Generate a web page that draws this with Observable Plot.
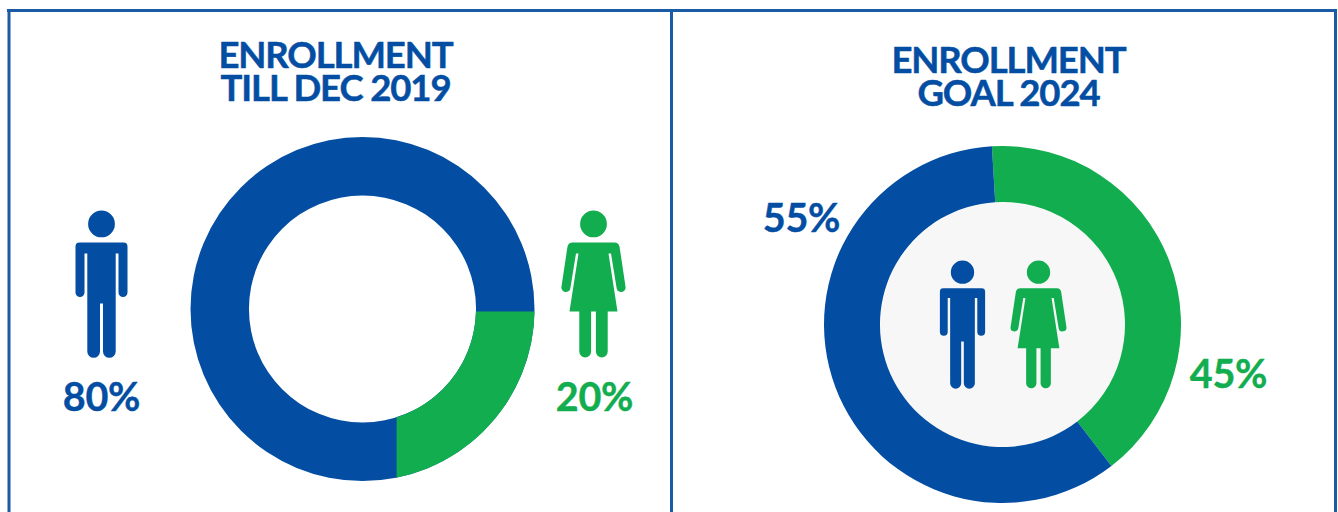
<!DOCTYPE html>
<html>
<head>
<meta charset="utf-8">
<script src="https://cdn.jsdelivr.net/npm/d3@7"></script>
<script src="https://cdn.jsdelivr.net/npm/@observablehq/plot@0.6"></script>
<style>
  html, body { margin: 0; padding: 0; background: #fff; overflow: hidden; }
  svg { display: block; }
  .head-title text { letter-spacing: -1.1px; }
  .pct text { letter-spacing: -0.2px; }
</style>
</head>
<body>
<script>
const BLUE = "#034ea2", GREEN = "#12ad4f", FRAME = "#1b5ba6";

// Values (arc spans as drawn, labels as printed)
const genders = ["Women", "Men"];
const tillDec2019Arc = [21.6, 78.4];
const goal2024Arc = [40.5, 59.5];

const titleLines = ["ENROLLMENT\nTILL DEC 2019", "ENROLLMENT\nGOAL 2024"];
const titleX = [335, 1008];
const titleY = [73.5, 78.5];

const pctLabels = ["80%", "20%", "55%", "45%"];
const pctX = [101, 594, 801, 1228];
const pctY = [398, 398, 219, 375];
const pctFill = [BLUE, GREEN, BLUE, GREEN];

const iconKind = ["man", "woman", "man", "woman"];
const iconX = [101, 593, 962, 1038];
const iconY = [210, 210, 260, 260];
const iconScale = [1, 1, 0.87, 0.87];

const donuts = [
  {values: tillDec2019Arc, cx: 362.5, cy: 309, outer: 172, inner: 113.5, start: 90.8, squareCut: true},
  {values: goal2024Arc, cx: 1002.5, cy: 324.5, outer: 178.5, inner: 122.5, start: -3.4, squareCut: false}
];

// Pictogram glyphs, drawn from the top centre of the figure
function head(c, s) {
  c.moveTo(13.4 * s, 13.4 * s);
  c.arc(0, 13.4 * s, 13.4 * s, 0, 2 * Math.PI);
  c.closePath();
}
const man = {
  draw(c, size) {
    const s = Math.sqrt(size / Math.PI);
    head(c, s);
    const p = (x, y) => [x * s, y * s];
    c.moveTo(...p(-22, 32));
    c.lineTo(...p(22, 32));
    c.quadraticCurveTo(...p(26, 32), ...p(26, 36));
    c.lineTo(...p(26, 82));
    c.arc(21.5 * s, 82 * s, 4.5 * s, 0, Math.PI);
    c.lineTo(...p(17, 43));
    c.lineTo(...p(14.2, 43));
    c.lineTo(...p(14.2, 141));
    c.arc(7.85 * s, 141 * s, 6.35 * s, 0, Math.PI);
    c.lineTo(...p(1.5, 93));
    c.lineTo(...p(-1.5, 93));
    c.lineTo(...p(-1.5, 141));
    c.arc(-7.85 * s, 141 * s, 6.35 * s, 0, Math.PI);
    c.lineTo(...p(-14.2, 43));
    c.lineTo(...p(-17, 43));
    c.lineTo(...p(-17, 82));
    c.arc(-21.5 * s, 82 * s, 4.5 * s, 0, Math.PI);
    c.lineTo(...p(-26, 36));
    c.quadraticCurveTo(...p(-26, 32), ...p(-22, 32));
    c.closePath();
  }
};
const woman = {
  draw(c, size) {
    const s = Math.sqrt(size / Math.PI);
    head(c, s);
    const p = (x, y) => [x * s, y * s];
    c.moveTo(...p(-21, 32));
    c.lineTo(...p(21, 32));
    c.quadraticCurveTo(...p(25, 32), ...p(26, 36));
    c.lineTo(...p(32, 76));
    c.arc(27.6 * s, 77 * s, 4.5 * s, -0.2, Math.PI - 0.2);
    c.lineTo(...p(17.5, 43));
    c.lineTo(...p(15, 43));
    c.lineTo(...p(24, 101));
    c.lineTo(...p(14.2, 101));
    c.lineTo(...p(14.2, 141));
    c.arc(8.3 * s, 141 * s, 5.9 * s, 0, Math.PI);
    c.lineTo(...p(2.4, 101));
    c.lineTo(...p(-2.4, 101));
    c.lineTo(...p(-2.4, 141));
    c.arc(-8.3 * s, 141 * s, 5.9 * s, 0, Math.PI);
    c.lineTo(...p(-14.2, 101));
    c.lineTo(...p(-24, 101));
    c.lineTo(...p(-15, 43));
    c.lineTo(...p(-17.5, 43));
    c.lineTo(...p(-23.2, 78));
    c.arc(-27.6 * s, 77 * s, 4.5 * s, 0.2, Math.PI + 0.2);
    c.lineTo(...p(-26, 36));
    c.quadraticCurveTo(...p(-25, 32), ...p(-21, 32));
    c.closePath();
  }
};

// Donut rings, computed with d3.pie from the value arrays
const color = d3.scaleOrdinal(genders, [GREEN, BLUE]);
function rings(index, scales) {
  const g = d3.create("svg:g");
  donuts.forEach((d, k) => {
    const start = d.start * Math.PI / 180;
    const pie = d3.pie().sort(null).startAngle(start).endAngle(start + 2 * Math.PI);
    const arc = d3.arc().innerRadius(d.inner).outerRadius(d.outer);
    const ring = g.append("g")
      .attr("transform", `translate(${scales.x(d.cx)},${scales.y(d.cy)})`);
    const slices = pie(d.values);
    if (d.squareCut) {
      // The reference cuts this slice along a vertical and a horizontal edge,
      // which run through the points where the slice meets the outer circle.
      const end = slices[0].endAngle;
      const cutX = d.outer * Math.sin(end);
      const cutY = -d.outer * Math.cos(start);
      const id = `square-cut-${k}`;
      ring.append("clipPath").attr("id", id).append("rect")
        .attr("x", cutX).attr("y", cutY)
        .attr("width", d.outer).attr("height", d.outer * 2);
      ring.append("path")
        .attr("fill", color(genders[1]))
        .attr("d", arc({startAngle: 0, endAngle: 2 * Math.PI}));
      ring.append("path")
        .attr("fill", color(genders[0]))
        .attr("clip-path", `url(#${id})`)
        .attr("d", arc({startAngle: start - 0.2, endAngle: Math.PI}));
    } else {
      ring.selectAll("path")
        .data(slices)
        .join("path")
        .attr("fill", (a, i) => color(genders[i]))
        .attr("d", arc);
    }
  });
  return g.node();
}

const idx = d3.range(4);
const chart = Plot.plot({
  width: 1338,
  height: 512,
  margin: 0,
  x: {domain: [0, 1338], range: [0, 1338], axis: null},
  y: {domain: [0, 512], range: [0, 512], axis: null},
  style: {background: "#fff", fontFamily: "Lato, 'Open Sans', sans-serif"},
  marks: [
    Plot.dot([donuts[1]], {x: "cx", y: "cy", r: "inner", fill: "#f7f7f7"}),
    rings,
    Plot.ruleY([10], {x1: 7, x2: 1336.5, stroke: FRAME, strokeWidth: 3}),
    Plot.ruleX([8.5, 671, 1335], {y1: 9, y2: 512, stroke: FRAME, strokeWidth: 3}),
    Plot.text([0, 1], {
      x: i => titleX[i], y: i => titleY[i], text: i => titleLines[i],
      fill: BLUE, stroke: BLUE, strokeWidth: 0.5, fontSize: 36.5, fontWeight: 700,
      lineHeight: 0.9, textAnchor: "middle", className: "head-title"
    }),
    Plot.text(idx, {
      x: i => pctX[i], y: i => pctY[i], text: i => pctLabels[i],
      fill: i => pctFill[i], stroke: i => pctFill[i], strokeWidth: 0.4,
      fontSize: 39.5, fontWeight: 700, textAnchor: "middle", className: "pct"
    }),
    Plot.dot(idx.filter(i => iconKind[i] === "man"), {
      x: i => iconX[i], y: i => iconY[i], r: i => iconScale[i], symbol: man, fill: BLUE
    }),
    Plot.dot(idx.filter(i => iconKind[i] === "woman"), {
      x: i => iconX[i], y: i => iconY[i], r: i => iconScale[i], symbol: woman, fill: GREEN
    })
  ],
  r: {type: "identity"}
});
document.body.appendChild(chart);
</script>
</body>
</html>
